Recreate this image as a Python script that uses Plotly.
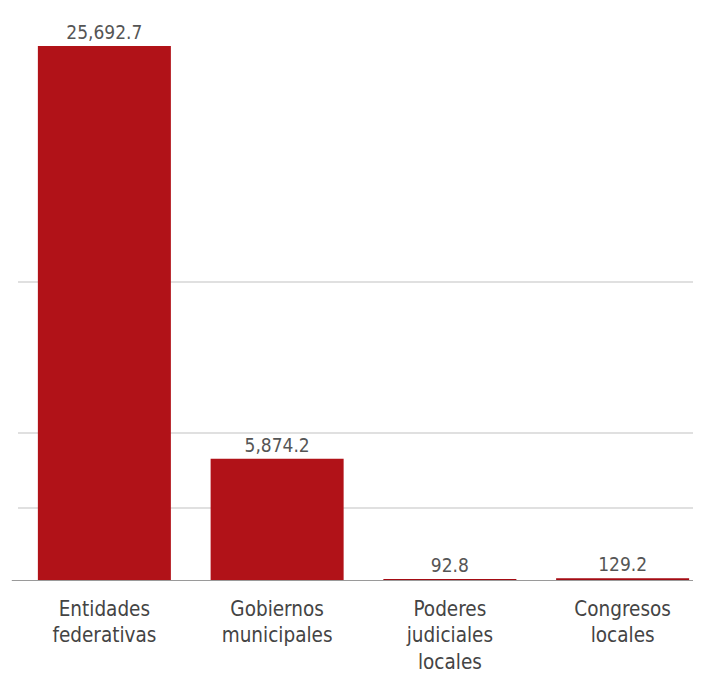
import plotly.graph_objects as go

categories = ["Entidades<br>federativas", "Gobiernos<br>municipales", "Poderes<br>judiciales<br>locales", "Congresos<br>locales"]
values = [25692.7, 5874.2, 92.8, 129.2]
bar_colors = ["#B11218", "#B11218", "#A40B13", "#A40B13"]
grid_values = [3506, 7107, 14359]

FONT = "DejaVu Sans Condensed, Liberation Sans Narrow, sans-serif"

fig = go.Figure(go.Bar(
    x=categories, y=values,
    marker=dict(color=bar_colors, line=dict(width=0)),
    texttemplate="%{y:,.1f}", textposition="outside",
    textfont=dict(size=19, color="#555555", family=FONT),
    cliponaxis=False, width=0.77,
))

fig.update_layout(
    width=701, height=685,
    margin=dict(l=10, r=0, t=12, b=112),
    paper_bgcolor="white", plot_bgcolor="white",
    showlegend=False,
    font=dict(family=FONT, color="#444444"),
    xaxis=dict(tickfont=dict(size=20.5, color="#444444"), showline=False, ticks="", ticklabelstandoff=13),
    yaxis=dict(range=[0, 26941], tickvals=grid_values, showticklabels=False, showgrid=True,
               gridcolor="#E0E0E0", gridwidth=1.5, zeroline=False, showline=False),
)
fig.add_shape(type="line", xref="paper", yref="y", x0=-0.009, x1=1, y0=0, y1=0,
              line=dict(color="#9A9A9A", width=2), layer="above")

fig.write_html("out.html")
